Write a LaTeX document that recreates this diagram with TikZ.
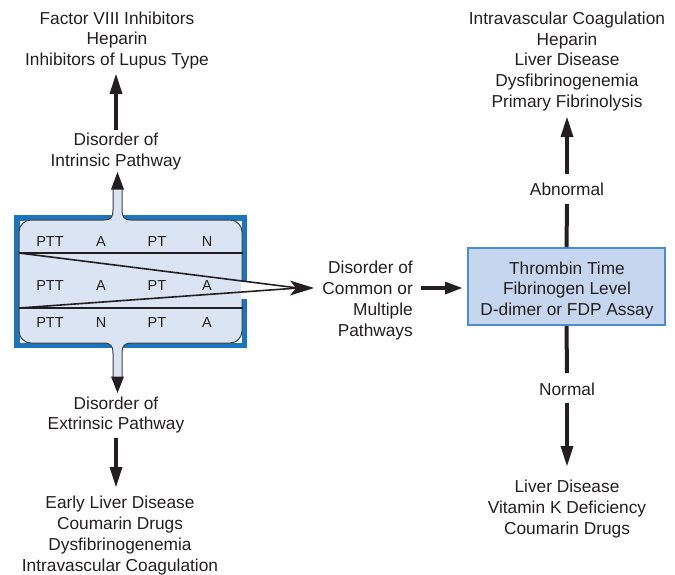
\documentclass[tikz,border=0pt]{standalone}
\usepackage{fontspec}
\setmainfont{Liberation Sans}
\usetikzlibrary{arrows.meta}
\definecolor{ink}{HTML}{231F20}
\definecolor{frameblue}{HTML}{1B75BC}
\definecolor{panel}{HTML}{DAE4F3}
\definecolor{boxfill}{HTML}{C5D6EE}
\definecolor{boxedge}{HTML}{4A8BD2}
\begin{document}
\begin{tikzpicture}[x=1pt,y=-1pt,
  txt/.style={text=ink, font=\fontsize{17.3}{20.8}\selectfont, align=center, inner sep=0pt},
  cell/.style={text=ink, font=\fontsize{14.5}{16}\selectfont, inner sep=0pt},
  shaft/.style={draw=ink, line width=4pt},
  bigarrow/.style={shaft, -{Triangle[length=20pt,width=13pt,line width=0pt]}},
  sidearrow/.style={shaft, -{Triangle[length=17pt,width=13pt,line width=0pt]}},
  rowline/.style={draw=ink, line width=1.6pt},
  tube/.style={draw=ink!85, line width=1pt},
]
\useasboundingbox (0,0) rectangle (675,574);

% ---- left panel: blue frame, rounded table, tubes ----
\fill[frameblue] (14,215) rectangle (247,348);
\fill[white] (19.5,220.5) rectangle (241.5,342.5);
\draw[tube, fill=panel, rounded corners=12pt] (19,220) rectangle (242,343);
% opening in the right wall where the lines leave
\fill[white] (240.8,281) rectangle (248,299);

% upper tube
\fill[panel] (104,220) .. controls (111,220) and (113,217) .. (113,210) -- (113,189)
  -- (122,189) -- (122,210) .. controls (122,217) and (124,220) .. (131,220)
  -- (131,223) -- (104,223) -- cycle;
\draw[tube] (104,220) .. controls (111,220) and (113,217) .. (113,210) -- (113,189);
\draw[tube] (131,220) .. controls (124,220) and (122,217) .. (122,210) -- (122,189);
\fill[ink] (117.5,172) -- (111,189.5) -- (124,189.5) -- cycle;

% lower tube
\fill[panel] (103,343) .. controls (111,343) and (113,346) .. (113,353) -- (113,377)
  -- (122,377) -- (122,353) .. controls (122,346) and (124,343) .. (132,343)
  -- (132,340) -- (103,340) -- cycle;
\draw[tube] (103,343) .. controls (111,343) and (113,346) .. (113,353) -- (113,377);
\draw[tube] (132,343) .. controls (124,343) and (122,346) .. (122,353) -- (122,377);
\fill[ink] (117.5,393) -- (111,376.5) -- (124,376.5) -- cycle;

% row separators and converging lines
\coordinate (r1) at (19,253);
\coordinate (r2) at (19,308);
\coordinate (conv) at (298,288);
\coordinate (convtip) at (314,288);
\draw[rowline] (r1) -- (243,253);
\draw[rowline] (r2) -- (243,308);
\draw[rowline] (r1) -- (conv);
\draw[rowline] (r2) -- (conv);
\fill[ink] (convtip) -- (290,280.5) -- (296,288) -- (290,295.5) -- cycle;

% table cells
\node[cell] (a1) at (50,242) {PTT};
\node[cell] (a2) at (101,242) {A};
\node[cell] (a3) at (157,242) {PT};
\node[cell] (a4) at (207,242) {N};
\node[cell] (b1) at (50,286) {PTT};
\node[cell] (b2) at (101,286) {A};
\node[cell] (b3) at (157,286) {PT};
\node[cell] (b4) at (207,286) {A};
\node[cell] (c1) at (50,323) {PTT};
\node[cell] (c2) at (101,323) {N};
\node[cell] (c3) at (157,323) {PT};
\node[cell] (c4) at (207,323) {A};

% ---- left column texts ----
\node[txt] (intrlist) at (117,40.5) {Factor VIII Inhibitors\\Heparin\\Inhibitors of Lupus Type};
\node[txt] (intr) at (116,151.5) {Disorder of\\Intrinsic Pathway};
\node[txt] (extr) at (116,415) {Disorder of\\Extrinsic Pathway};
\node[txt] (extrlist) at (120,535.5) {Early Liver Disease\\Coumarin Drugs\\Dysfibrinogenemia\\Intravascular Coagulation};
\coordinate (i1) at (116,130);
\coordinate (i2) at (116,74);
\draw[bigarrow] (i1) -- (i2);
\coordinate (e1) at (116,438);
\coordinate (e2) at (116,487);
\draw[bigarrow] (e1) -- (e2);

% ---- middle ----
\node[txt, align=right, anchor=east] (common) at (413,300.5) {Disorder of\\Common or\\Multiple\\Pathways};
\node[draw=boxedge, line width=2pt, fill=boxfill, minimum width=197pt, minimum height=77pt, inner sep=0pt]
  (tt) at (566.5,286.5) {};
\node[txt] (ttext) at (567,290.5) {Thrombin Time\\Fibrinogen Level\\D-dimer or FDP Assay};
\coordinate (m1) at (421,288);
\coordinate (m2) at (462,288);
\draw[sidearrow] (m1) -- (m2);

% ---- right column ----
\node[txt] (abnlist) at (567,61.5) {Intravascular Coagulation\\Heparin\\Liver Disease\\Dysfibrinogenemia\\Primary Fibrinolysis};
\node[txt] (abn) at (567,189) {Abnormal};
\node[txt] (nrm) at (567,389) {Normal};
\node[txt] (nrmlist) at (567,509) {Liver Disease\\Vitamin K Deficiency\\Coumarin Drugs};
\coordinate (u1) at (567,204);
\coordinate (u2) at (567,174);
\coordinate (u3) at (567,117);
\draw[shaft] (tt.north) -- (u1);
\draw[bigarrow] (u2) -- (u3);
\coordinate (d1) at (567,373);
\coordinate (d2) at (567,403);
\coordinate (d3) at (567,466);
\draw[shaft] (tt.south) -- (d1);
\draw[bigarrow] (d2) -- (d3);
\end{tikzpicture}
\end{document}
